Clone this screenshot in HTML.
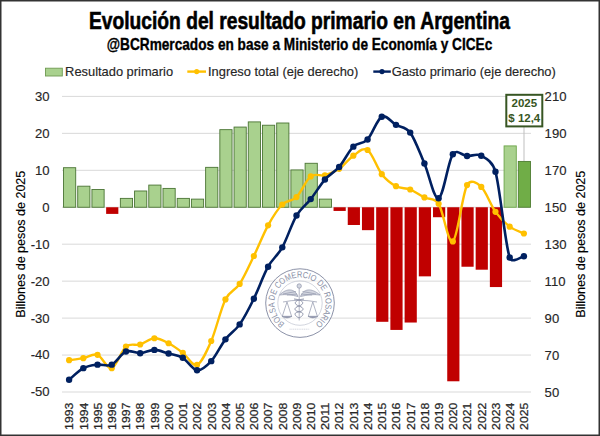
<!DOCTYPE html><html><head><meta charset="utf-8"><style>html,body{margin:0;padding:0;background:#fff;}svg{display:block;}text{font-family:"Liberation Sans",sans-serif;}</style></head><body>
<svg width="600" height="436" viewBox="0 0 600 436">
<rect x="0" y="0" width="600" height="436" fill="#fff"/>
<text x="89" y="28.9" font-size="23" font-weight="bold" fill="#000" stroke="#000" stroke-width="0.6" textLength="421" lengthAdjust="spacingAndGlyphs">Evolución del resultado primario en Argentina</text>
<text x="106.8" y="50.3" font-size="16.3" font-weight="bold" fill="#000" stroke="#000" stroke-width="0.35" textLength="385.5" lengthAdjust="spacingAndGlyphs">@BCRmercados en base a Ministerio de Economía y CICEc</text>
<rect x="45.5" y="68.2" width="16.8" height="7.8" fill="#a9d18e" stroke="#6f9a52" stroke-width="0.9"/>
<text x="65.1" y="75.7" font-size="12.2" fill="#262626" stroke="#262626" stroke-width="0.15" textLength="108" lengthAdjust="spacingAndGlyphs">Resultado primario</text>
<line x1="187.3" y1="71.6" x2="206" y2="71.6" stroke="#ffc000" stroke-width="2.4"/><circle cx="196.7" cy="71.6" r="2.6" fill="#ffc000"/>
<text x="208" y="75.7" font-size="12.2" fill="#262626" stroke="#262626" stroke-width="0.15" textLength="150.3" lengthAdjust="spacingAndGlyphs">Ingreso total (eje derecho)</text>
<line x1="373.3" y1="71.6" x2="390.8" y2="71.6" stroke="#002060" stroke-width="2.4"/><circle cx="382" cy="71.6" r="2.6" fill="#002060"/>
<text x="391.7" y="75.7" font-size="12.2" fill="#262626" stroke="#262626" stroke-width="0.15" textLength="164.1" lengthAdjust="spacingAndGlyphs">Gasto primario (eje derecho)</text>
<line x1="62.0" y1="96.40" x2="531.0" y2="96.40" stroke="#d9d9d9" stroke-width="1"/>
<line x1="62.0" y1="133.35" x2="531.0" y2="133.35" stroke="#d9d9d9" stroke-width="1"/>
<line x1="62.0" y1="170.30" x2="531.0" y2="170.30" stroke="#d9d9d9" stroke-width="1"/>
<line x1="62.0" y1="207.25" x2="531.0" y2="207.25" stroke="#d9d9d9" stroke-width="1"/>
<line x1="62.0" y1="244.20" x2="531.0" y2="244.20" stroke="#d9d9d9" stroke-width="1"/>
<line x1="62.0" y1="281.15" x2="531.0" y2="281.15" stroke="#d9d9d9" stroke-width="1"/>
<line x1="62.0" y1="318.10" x2="531.0" y2="318.10" stroke="#d9d9d9" stroke-width="1"/>
<line x1="62.0" y1="355.05" x2="531.0" y2="355.05" stroke="#d9d9d9" stroke-width="1"/>
<line x1="62.0" y1="392.00" x2="531.0" y2="392.00" stroke="#d9d9d9" stroke-width="1"/>
<text x="49.6" y="100.80" font-size="13.1" fill="#262626" stroke="#262626" stroke-width="0.15" text-anchor="end">30</text>
<text x="544.6" y="101.00" font-size="13.1" fill="#262626" stroke="#262626" stroke-width="0.15">210</text>
<text x="49.6" y="137.75" font-size="13.1" fill="#262626" stroke="#262626" stroke-width="0.15" text-anchor="end">20</text>
<text x="544.6" y="137.95" font-size="13.1" fill="#262626" stroke="#262626" stroke-width="0.15">190</text>
<text x="49.6" y="174.70" font-size="13.1" fill="#262626" stroke="#262626" stroke-width="0.15" text-anchor="end">10</text>
<text x="544.6" y="174.90" font-size="13.1" fill="#262626" stroke="#262626" stroke-width="0.15">170</text>
<text x="49.6" y="211.65" font-size="13.1" fill="#262626" stroke="#262626" stroke-width="0.15" text-anchor="end">0</text>
<text x="544.6" y="211.85" font-size="13.1" fill="#262626" stroke="#262626" stroke-width="0.15">150</text>
<text x="49.6" y="248.60" font-size="13.1" fill="#262626" stroke="#262626" stroke-width="0.15" text-anchor="end">-10</text>
<text x="544.6" y="248.80" font-size="13.1" fill="#262626" stroke="#262626" stroke-width="0.15">130</text>
<text x="49.6" y="285.55" font-size="13.1" fill="#262626" stroke="#262626" stroke-width="0.15" text-anchor="end">-20</text>
<text x="544.6" y="285.75" font-size="13.1" fill="#262626" stroke="#262626" stroke-width="0.15">110</text>
<text x="49.6" y="322.50" font-size="13.1" fill="#262626" stroke="#262626" stroke-width="0.15" text-anchor="end">-30</text>
<text x="544.6" y="322.70" font-size="13.1" fill="#262626" stroke="#262626" stroke-width="0.15">90</text>
<text x="49.6" y="359.45" font-size="13.1" fill="#262626" stroke="#262626" stroke-width="0.15" text-anchor="end">-40</text>
<text x="544.6" y="359.65" font-size="13.1" fill="#262626" stroke="#262626" stroke-width="0.15">70</text>
<text x="49.6" y="396.40" font-size="13.1" fill="#262626" stroke="#262626" stroke-width="0.15" text-anchor="end">-50</text>
<text x="544.6" y="396.60" font-size="13.1" fill="#262626" stroke="#262626" stroke-width="0.15">50</text>
<text transform="translate(24.5,244.2) rotate(-90)" font-size="13.2" fill="#000" stroke="#000" stroke-width="0.15" text-anchor="middle" textLength="147" lengthAdjust="spacingAndGlyphs">Billones de pesos de 2025</text>
<text transform="translate(585,244.2) rotate(-90)" font-size="13" fill="#000" stroke="#000" stroke-width="0.15" text-anchor="middle" textLength="147" lengthAdjust="spacingAndGlyphs">Billones de pesos de 2025</text>
<text transform="translate(73.41,402.7) rotate(-90)" font-size="11.3" fill="#262626" stroke="#262626" stroke-width="0.25" text-anchor="end" textLength="27.2" lengthAdjust="spacingAndGlyphs">1993</text>
<text transform="translate(87.62,402.7) rotate(-90)" font-size="11.3" fill="#262626" stroke="#262626" stroke-width="0.25" text-anchor="end" textLength="27.2" lengthAdjust="spacingAndGlyphs">1994</text>
<text transform="translate(101.83,402.7) rotate(-90)" font-size="11.3" fill="#262626" stroke="#262626" stroke-width="0.25" text-anchor="end" textLength="27.2" lengthAdjust="spacingAndGlyphs">1995</text>
<text transform="translate(116.04,402.7) rotate(-90)" font-size="11.3" fill="#262626" stroke="#262626" stroke-width="0.25" text-anchor="end" textLength="27.2" lengthAdjust="spacingAndGlyphs">1996</text>
<text transform="translate(130.25,402.7) rotate(-90)" font-size="11.3" fill="#262626" stroke="#262626" stroke-width="0.25" text-anchor="end" textLength="27.2" lengthAdjust="spacingAndGlyphs">1997</text>
<text transform="translate(144.47,402.7) rotate(-90)" font-size="11.3" fill="#262626" stroke="#262626" stroke-width="0.25" text-anchor="end" textLength="27.2" lengthAdjust="spacingAndGlyphs">1998</text>
<text transform="translate(158.68,402.7) rotate(-90)" font-size="11.3" fill="#262626" stroke="#262626" stroke-width="0.25" text-anchor="end" textLength="27.2" lengthAdjust="spacingAndGlyphs">1999</text>
<text transform="translate(172.89,402.7) rotate(-90)" font-size="11.3" fill="#262626" stroke="#262626" stroke-width="0.25" text-anchor="end" textLength="27.2" lengthAdjust="spacingAndGlyphs">2000</text>
<text transform="translate(187.10,402.7) rotate(-90)" font-size="11.3" fill="#262626" stroke="#262626" stroke-width="0.25" text-anchor="end" textLength="27.2" lengthAdjust="spacingAndGlyphs">2001</text>
<text transform="translate(201.32,402.7) rotate(-90)" font-size="11.3" fill="#262626" stroke="#262626" stroke-width="0.25" text-anchor="end" textLength="27.2" lengthAdjust="spacingAndGlyphs">2002</text>
<text transform="translate(215.53,402.7) rotate(-90)" font-size="11.3" fill="#262626" stroke="#262626" stroke-width="0.25" text-anchor="end" textLength="27.2" lengthAdjust="spacingAndGlyphs">2003</text>
<text transform="translate(229.74,402.7) rotate(-90)" font-size="11.3" fill="#262626" stroke="#262626" stroke-width="0.25" text-anchor="end" textLength="27.2" lengthAdjust="spacingAndGlyphs">2004</text>
<text transform="translate(243.95,402.7) rotate(-90)" font-size="11.3" fill="#262626" stroke="#262626" stroke-width="0.25" text-anchor="end" textLength="27.2" lengthAdjust="spacingAndGlyphs">2005</text>
<text transform="translate(258.16,402.7) rotate(-90)" font-size="11.3" fill="#262626" stroke="#262626" stroke-width="0.25" text-anchor="end" textLength="27.2" lengthAdjust="spacingAndGlyphs">2006</text>
<text transform="translate(272.38,402.7) rotate(-90)" font-size="11.3" fill="#262626" stroke="#262626" stroke-width="0.25" text-anchor="end" textLength="27.2" lengthAdjust="spacingAndGlyphs">2007</text>
<text transform="translate(286.59,402.7) rotate(-90)" font-size="11.3" fill="#262626" stroke="#262626" stroke-width="0.25" text-anchor="end" textLength="27.2" lengthAdjust="spacingAndGlyphs">2008</text>
<text transform="translate(300.80,402.7) rotate(-90)" font-size="11.3" fill="#262626" stroke="#262626" stroke-width="0.25" text-anchor="end" textLength="27.2" lengthAdjust="spacingAndGlyphs">2009</text>
<text transform="translate(315.01,402.7) rotate(-90)" font-size="11.3" fill="#262626" stroke="#262626" stroke-width="0.25" text-anchor="end" textLength="27.2" lengthAdjust="spacingAndGlyphs">2010</text>
<text transform="translate(329.22,402.7) rotate(-90)" font-size="11.3" fill="#262626" stroke="#262626" stroke-width="0.25" text-anchor="end" textLength="27.2" lengthAdjust="spacingAndGlyphs">2011</text>
<text transform="translate(343.44,402.7) rotate(-90)" font-size="11.3" fill="#262626" stroke="#262626" stroke-width="0.25" text-anchor="end" textLength="27.2" lengthAdjust="spacingAndGlyphs">2012</text>
<text transform="translate(357.65,402.7) rotate(-90)" font-size="11.3" fill="#262626" stroke="#262626" stroke-width="0.25" text-anchor="end" textLength="27.2" lengthAdjust="spacingAndGlyphs">2013</text>
<text transform="translate(371.86,402.7) rotate(-90)" font-size="11.3" fill="#262626" stroke="#262626" stroke-width="0.25" text-anchor="end" textLength="27.2" lengthAdjust="spacingAndGlyphs">2014</text>
<text transform="translate(386.07,402.7) rotate(-90)" font-size="11.3" fill="#262626" stroke="#262626" stroke-width="0.25" text-anchor="end" textLength="27.2" lengthAdjust="spacingAndGlyphs">2015</text>
<text transform="translate(400.28,402.7) rotate(-90)" font-size="11.3" fill="#262626" stroke="#262626" stroke-width="0.25" text-anchor="end" textLength="27.2" lengthAdjust="spacingAndGlyphs">2016</text>
<text transform="translate(414.50,402.7) rotate(-90)" font-size="11.3" fill="#262626" stroke="#262626" stroke-width="0.25" text-anchor="end" textLength="27.2" lengthAdjust="spacingAndGlyphs">2017</text>
<text transform="translate(428.71,402.7) rotate(-90)" font-size="11.3" fill="#262626" stroke="#262626" stroke-width="0.25" text-anchor="end" textLength="27.2" lengthAdjust="spacingAndGlyphs">2018</text>
<text transform="translate(442.92,402.7) rotate(-90)" font-size="11.3" fill="#262626" stroke="#262626" stroke-width="0.25" text-anchor="end" textLength="27.2" lengthAdjust="spacingAndGlyphs">2019</text>
<text transform="translate(457.13,402.7) rotate(-90)" font-size="11.3" fill="#262626" stroke="#262626" stroke-width="0.25" text-anchor="end" textLength="27.2" lengthAdjust="spacingAndGlyphs">2020</text>
<text transform="translate(471.35,402.7) rotate(-90)" font-size="11.3" fill="#262626" stroke="#262626" stroke-width="0.25" text-anchor="end" textLength="27.2" lengthAdjust="spacingAndGlyphs">2021</text>
<text transform="translate(485.56,402.7) rotate(-90)" font-size="11.3" fill="#262626" stroke="#262626" stroke-width="0.25" text-anchor="end" textLength="27.2" lengthAdjust="spacingAndGlyphs">2022</text>
<text transform="translate(499.77,402.7) rotate(-90)" font-size="11.3" fill="#262626" stroke="#262626" stroke-width="0.25" text-anchor="end" textLength="27.2" lengthAdjust="spacingAndGlyphs">2023</text>
<text transform="translate(513.98,402.7) rotate(-90)" font-size="11.3" fill="#262626" stroke="#262626" stroke-width="0.25" text-anchor="end" textLength="27.2" lengthAdjust="spacingAndGlyphs">2024</text>
<text transform="translate(528.19,402.7) rotate(-90)" font-size="11.3" fill="#262626" stroke="#262626" stroke-width="0.25" text-anchor="end" textLength="27.2" lengthAdjust="spacingAndGlyphs">2025</text>
<rect x="63.51" y="167.71" width="12.20" height="39.54" fill="#a9d18e" stroke="#4a7434" stroke-width="0.9"/>
<rect x="77.72" y="186.19" width="12.20" height="21.06" fill="#a9d18e" stroke="#4a7434" stroke-width="0.9"/>
<rect x="91.93" y="189.51" width="12.20" height="17.74" fill="#a9d18e" stroke="#4a7434" stroke-width="0.9"/>
<rect x="106.14" y="207.25" width="12.20" height="6.65" fill="#c00000"/>
<rect x="120.35" y="198.38" width="12.20" height="8.87" fill="#a9d18e" stroke="#4a7434" stroke-width="0.9"/>
<rect x="134.57" y="190.99" width="12.20" height="16.26" fill="#a9d18e" stroke="#4a7434" stroke-width="0.9"/>
<rect x="148.78" y="185.08" width="12.20" height="22.17" fill="#a9d18e" stroke="#4a7434" stroke-width="0.9"/>
<rect x="162.99" y="188.41" width="12.20" height="18.84" fill="#a9d18e" stroke="#4a7434" stroke-width="0.9"/>
<rect x="177.20" y="198.38" width="12.20" height="8.87" fill="#a9d18e" stroke="#4a7434" stroke-width="0.9"/>
<rect x="191.42" y="199.12" width="12.20" height="8.13" fill="#a9d18e" stroke="#4a7434" stroke-width="0.9"/>
<rect x="205.63" y="167.34" width="12.20" height="39.91" fill="#a9d18e" stroke="#4a7434" stroke-width="0.9"/>
<rect x="219.84" y="129.66" width="12.20" height="77.59" fill="#a9d18e" stroke="#4a7434" stroke-width="0.9"/>
<rect x="234.05" y="127.07" width="12.20" height="80.18" fill="#a9d18e" stroke="#4a7434" stroke-width="0.9"/>
<rect x="248.26" y="121.90" width="12.20" height="85.35" fill="#a9d18e" stroke="#4a7434" stroke-width="0.9"/>
<rect x="262.48" y="125.22" width="12.20" height="82.03" fill="#a9d18e" stroke="#4a7434" stroke-width="0.9"/>
<rect x="276.69" y="123.00" width="12.20" height="84.25" fill="#a9d18e" stroke="#4a7434" stroke-width="0.9"/>
<rect x="290.90" y="169.93" width="12.20" height="37.32" fill="#a9d18e" stroke="#4a7434" stroke-width="0.9"/>
<rect x="305.11" y="163.28" width="12.20" height="43.97" fill="#a9d18e" stroke="#4a7434" stroke-width="0.9"/>
<rect x="319.32" y="199.12" width="12.20" height="8.13" fill="#a9d18e" stroke="#4a7434" stroke-width="0.9"/>
<rect x="333.54" y="207.25" width="12.20" height="3.69" fill="#c00000"/>
<rect x="347.75" y="207.25" width="12.20" height="17.74" fill="#c00000"/>
<rect x="361.96" y="207.25" width="12.20" height="22.91" fill="#c00000"/>
<rect x="376.17" y="207.25" width="12.20" height="114.55" fill="#c00000"/>
<rect x="390.38" y="207.25" width="12.20" height="122.67" fill="#c00000"/>
<rect x="404.60" y="207.25" width="12.20" height="115.28" fill="#c00000"/>
<rect x="418.81" y="207.25" width="12.20" height="69.10" fill="#c00000"/>
<rect x="433.02" y="207.25" width="12.20" height="9.98" fill="#c00000"/>
<rect x="447.23" y="207.25" width="12.20" height="174.03" fill="#c00000"/>
<rect x="461.45" y="207.25" width="12.20" height="59.49" fill="#c00000"/>
<rect x="475.66" y="207.25" width="12.20" height="62.45" fill="#c00000"/>
<rect x="489.87" y="207.25" width="12.20" height="79.81" fill="#c00000"/>
<rect x="504.08" y="145.91" width="12.20" height="61.34" fill="#a9d18e" stroke="#6da54a" stroke-width="0.9"/>
<rect x="518.29" y="161.43" width="12.20" height="45.82" fill="#70ad47" stroke="#4e7d31" stroke-width="0.9"/>
<circle cx="300" cy="303.1" r="34.3" fill="#fff" fill-opacity="0.45" stroke="#8c92a8" stroke-width="1"/>
<circle cx="300" cy="303.1" r="22.2" fill="none" stroke="#b4b8c8" stroke-width="0.6"/>
<defs><path id="arc" d="M287.20,325.27 A25.6,25.6 0 1 1 312.80,325.27"/></defs>
<text font-size="8.8" fill="#8a90a6"><textPath href="#arc" startOffset="50%" text-anchor="middle" textLength="128" lengthAdjust="spacingAndGlyphs">BOLSA DE COMERCIO DE ROSARIO</textPath></text>
<g stroke="#8f95ab" stroke-width="0.7" fill="none">
<path d="M298,296.5 C295,288.5 287,287.5 279.5,295 C286,294 292,295 298,296.5 Z M296,291.5 L283,294 M297,294 L287,295" fill="#d3d6e0"/>
<path d="M300.5,296.5 C303.5,288.5 311.5,287.5 320,295 C313,294 307,295 300.5,296.5 Z M302.5,291.5 L316,294 M301.5,294 L312,295" fill="#d3d6e0"/>
<circle cx="299.2" cy="286" r="2.2" fill="#d3d6e0"/>
<line x1="299.2" y1="288" x2="299.2" y2="320.5"/>
<path d="M283,302 Q299,298.5 317,302"/>
<path d="M287,302 L282.3,316.3 M287,302 L291.6,316.3 M312.8,302 L308.3,316.3 M312.8,302 L317.4,316.3"/>
<path d="M282,316.3 Q287,319.5 292,316.3 Z" fill="#8f95ab"/>
<path d="M308,316.3 Q312.8,319.5 317.8,316.3 Z" fill="#8f95ab"/>
<path d="M294,299 C304,300 305,304 299,306 C293,308 294,311 300,312 C305,313 303,316 299,318" stroke-width="1"/>
<path d="M304,299 C294,300 293,304 299,306 C305,308 304,311 298,312 C293,313 295,316 299,318" stroke-width="1"/>
</g>
<line x1="289.5" y1="329.2" x2="309.5" y2="329.2" stroke="#c3c7d3" stroke-width="0.7" stroke-dasharray="1.2 0.6"/>
<path d="M69.11,360.22 C71.47,359.88 78.58,359.08 83.32,358.19 C88.06,357.30 92.79,353.20 97.53,354.87 C102.27,356.53 107.01,369.55 111.74,368.17 C116.48,366.78 121.22,350.49 125.95,346.55 C130.69,342.61 135.43,345.90 140.17,344.52 C144.90,343.13 149.64,338.45 154.38,338.24 C159.12,338.02 163.85,340.79 168.59,343.23 C173.33,345.66 178.07,349.23 182.80,352.83 C187.54,356.44 192.28,366.81 197.02,364.84 C201.75,362.87 206.49,351.91 211.23,341.01 C215.96,330.11 220.70,308.95 225.44,299.44 C230.13,290.02 234.91,291.16 239.65,283.92 C244.39,276.69 249.13,265.78 253.86,256.02 C258.60,246.26 263.34,233.95 268.08,225.36 C272.81,216.76 277.55,209.19 282.29,204.48 C287.03,199.77 291.76,201.77 296.50,197.09 C301.24,192.41 305.97,180.03 310.71,176.40 C315.45,172.76 320.19,176.55 324.92,175.29 C329.66,174.03 334.40,172.09 339.14,168.82 C343.87,165.56 348.61,158.85 353.35,155.70 C358.09,152.56 362.82,146.90 367.56,149.98 C372.30,153.06 377.04,168.14 381.77,174.18 C386.51,180.21 391.25,183.63 395.98,186.19 C400.72,188.74 405.46,187.64 410.20,189.51 C414.93,191.39 419.67,195.09 424.41,197.46 C429.15,199.83 434.40,197.22 438.62,203.74 C443.36,211.07 448.10,244.54 452.83,241.43 C457.57,238.32 462.31,194.16 467.05,185.08 C470.36,178.73 476.52,182.46 481.26,186.93 C485.99,191.39 490.73,205.25 495.47,211.87 C500.21,218.49 504.94,223.05 509.68,226.65 C514.42,230.25 521.53,232.35 523.89,233.48" fill="none" stroke="#ffc000" stroke-width="2.4" stroke-linejoin="round" stroke-linecap="round"/>
<circle cx="69.11" cy="360.22" r="3.1" fill="#ffc000"/>
<circle cx="83.32" cy="358.19" r="3.1" fill="#ffc000"/>
<circle cx="97.53" cy="354.87" r="3.1" fill="#ffc000"/>
<circle cx="111.74" cy="368.17" r="3.1" fill="#ffc000"/>
<circle cx="125.95" cy="346.55" r="3.1" fill="#ffc000"/>
<circle cx="140.17" cy="344.52" r="3.1" fill="#ffc000"/>
<circle cx="154.38" cy="338.24" r="3.1" fill="#ffc000"/>
<circle cx="168.59" cy="343.23" r="3.1" fill="#ffc000"/>
<circle cx="182.80" cy="352.83" r="3.1" fill="#ffc000"/>
<circle cx="197.02" cy="364.84" r="3.1" fill="#ffc000"/>
<circle cx="211.23" cy="341.01" r="3.1" fill="#ffc000"/>
<circle cx="225.44" cy="299.44" r="3.1" fill="#ffc000"/>
<circle cx="239.65" cy="283.92" r="3.1" fill="#ffc000"/>
<circle cx="253.86" cy="256.02" r="3.1" fill="#ffc000"/>
<circle cx="268.08" cy="225.36" r="3.1" fill="#ffc000"/>
<circle cx="282.29" cy="204.48" r="3.1" fill="#ffc000"/>
<circle cx="296.50" cy="197.09" r="3.1" fill="#ffc000"/>
<circle cx="310.71" cy="176.40" r="3.1" fill="#ffc000"/>
<circle cx="324.92" cy="175.29" r="3.1" fill="#ffc000"/>
<circle cx="339.14" cy="168.82" r="3.1" fill="#ffc000"/>
<circle cx="353.35" cy="155.70" r="3.1" fill="#ffc000"/>
<circle cx="367.56" cy="149.98" r="3.1" fill="#ffc000"/>
<circle cx="381.77" cy="174.18" r="3.1" fill="#ffc000"/>
<circle cx="395.98" cy="186.19" r="3.1" fill="#ffc000"/>
<circle cx="410.20" cy="189.51" r="3.1" fill="#ffc000"/>
<circle cx="424.41" cy="197.46" r="3.1" fill="#ffc000"/>
<circle cx="438.62" cy="203.74" r="3.1" fill="#ffc000"/>
<circle cx="452.83" cy="241.43" r="3.1" fill="#ffc000"/>
<circle cx="467.05" cy="185.08" r="3.1" fill="#ffc000"/>
<circle cx="481.26" cy="186.93" r="3.1" fill="#ffc000"/>
<circle cx="495.47" cy="211.87" r="3.1" fill="#ffc000"/>
<circle cx="509.68" cy="226.65" r="3.1" fill="#ffc000"/>
<circle cx="523.89" cy="233.48" r="3.1" fill="#ffc000"/>
<path d="M69.11,379.81 C71.47,377.87 78.58,370.69 83.32,368.17 C88.06,365.64 92.79,365.24 97.53,364.66 C102.27,364.07 107.01,366.84 111.74,364.66 C116.48,362.47 121.22,353.45 125.95,351.54 C130.69,349.63 135.43,353.48 140.17,353.20 C144.90,352.93 149.64,349.82 154.38,349.88 C159.12,349.94 163.85,352.25 168.59,353.57 C173.33,354.90 178.07,355.05 182.80,357.82 C187.54,360.59 192.28,369.65 197.02,370.20 C201.75,370.75 206.49,366.29 211.23,361.15 C215.96,356.00 220.70,345.47 225.44,339.35 C230.18,333.22 234.91,331.16 239.65,324.38 C244.39,317.61 249.13,308.31 253.86,298.70 C258.60,289.09 263.34,275.30 268.08,266.74 C272.81,258.18 277.55,255.87 282.29,247.34 C287.03,238.81 291.76,223.60 296.50,215.56 C301.24,207.53 305.97,205.13 310.71,199.12 C315.45,193.12 320.19,184.90 324.92,179.54 C329.66,174.18 334.40,172.46 339.14,166.97 C343.87,161.49 348.61,151.24 353.35,146.65 C358.09,142.06 362.82,144.44 367.56,139.45 C372.30,134.46 377.04,119.16 381.77,116.72 C386.51,114.29 391.25,122.20 395.98,124.85 C400.72,127.50 405.46,126.18 410.20,132.61 C414.93,139.05 419.67,152.53 424.41,163.46 C429.15,174.40 433.88,199.74 438.62,198.20 C443.36,196.66 448.10,161.25 452.83,154.23 C456.84,148.29 462.31,155.83 467.05,156.07 C471.78,156.32 476.52,153.09 481.26,155.70 C485.99,158.32 492.58,161.45 495.47,171.78 C500.21,188.74 504.94,243.43 509.68,257.50 C511.96,264.26 521.53,256.42 523.89,256.21" fill="none" stroke="#002060" stroke-width="2.6" stroke-linejoin="round" stroke-linecap="round"/>
<circle cx="69.11" cy="379.81" r="3.2" fill="#002060"/>
<circle cx="83.32" cy="368.17" r="3.2" fill="#002060"/>
<circle cx="97.53" cy="364.66" r="3.2" fill="#002060"/>
<circle cx="111.74" cy="364.66" r="3.2" fill="#002060"/>
<circle cx="125.95" cy="351.54" r="3.2" fill="#002060"/>
<circle cx="140.17" cy="353.20" r="3.2" fill="#002060"/>
<circle cx="154.38" cy="349.88" r="3.2" fill="#002060"/>
<circle cx="168.59" cy="353.57" r="3.2" fill="#002060"/>
<circle cx="182.80" cy="357.82" r="3.2" fill="#002060"/>
<circle cx="197.02" cy="370.20" r="3.2" fill="#002060"/>
<circle cx="211.23" cy="361.15" r="3.2" fill="#002060"/>
<circle cx="225.44" cy="339.35" r="3.2" fill="#002060"/>
<circle cx="239.65" cy="324.38" r="3.2" fill="#002060"/>
<circle cx="253.86" cy="298.70" r="3.2" fill="#002060"/>
<circle cx="268.08" cy="266.74" r="3.2" fill="#002060"/>
<circle cx="282.29" cy="247.34" r="3.2" fill="#002060"/>
<circle cx="296.50" cy="215.56" r="3.2" fill="#002060"/>
<circle cx="310.71" cy="199.12" r="3.2" fill="#002060"/>
<circle cx="324.92" cy="179.54" r="3.2" fill="#002060"/>
<circle cx="339.14" cy="166.97" r="3.2" fill="#002060"/>
<circle cx="353.35" cy="146.65" r="3.2" fill="#002060"/>
<circle cx="367.56" cy="139.45" r="3.2" fill="#002060"/>
<circle cx="381.77" cy="116.72" r="3.2" fill="#002060"/>
<circle cx="395.98" cy="124.85" r="3.2" fill="#002060"/>
<circle cx="410.20" cy="132.61" r="3.2" fill="#002060"/>
<circle cx="424.41" cy="163.46" r="3.2" fill="#002060"/>
<circle cx="438.62" cy="198.20" r="3.2" fill="#002060"/>
<circle cx="452.83" cy="154.23" r="3.2" fill="#002060"/>
<circle cx="467.05" cy="156.07" r="3.2" fill="#002060"/>
<circle cx="481.26" cy="155.70" r="3.2" fill="#002060"/>
<circle cx="495.47" cy="171.78" r="3.2" fill="#002060"/>
<circle cx="509.68" cy="257.50" r="3.2" fill="#002060"/>
<circle cx="523.89" cy="256.21" r="3.2" fill="#002060"/>
<line x1="524" y1="127" x2="524" y2="161" stroke="#bfbfbf" stroke-width="1"/>
<rect x="506.3" y="94.8" width="36" height="31.6" fill="#fff" stroke="#375623" stroke-width="2"/>
<text x="524.3" y="107.2" font-size="11.5" font-weight="bold" fill="#375623" text-anchor="middle">2025</text>
<text x="524.3" y="121.6" font-size="11.5" font-weight="bold" fill="#375623" text-anchor="middle">$ 12,4</text>
<rect x="0.75" y="0.75" width="598.5" height="434.5" fill="none" stroke="#333" stroke-width="1.5"/>
</svg></body></html>
